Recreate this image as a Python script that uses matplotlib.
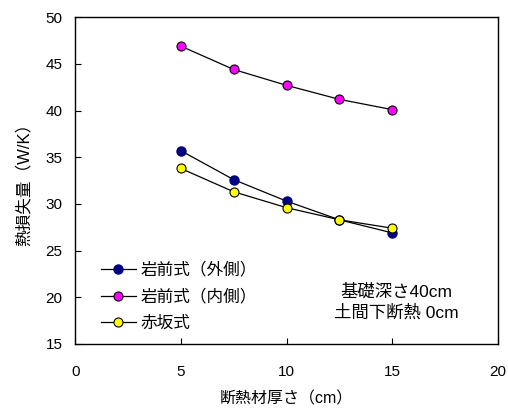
import matplotlib.pyplot as plt

plt.rcParams['font.family'] = ['Liberation Sans', 'Noto Sans CJK JP']

# 断熱材厚さ (cm)
thickness = [5, 7.5, 10, 12.5, 15]
iwamae_out = [35.7, 32.6, 30.3, 28.3, 26.9]
iwamae_in = [46.9, 44.4, 42.7, 41.2, 40.1]
akasaka = [33.8, 31.3, 29.6, 28.3, 27.4]

labels = ['岩前式（外側）', '岩前式（内側）', '赤坂式']

fig = plt.figure(figsize=(5.08, 4.09), dpi=100)
ax = fig.add_axes([0.148, 0.159, 0.832, 0.799])

ax.plot(thickness, iwamae_out, '-o', color='black', lw=0.9,
        markerfacecolor='#000080', markeredgecolor='#000080', markersize=6.5,
        label=labels[0])
ax.plot(thickness, iwamae_in, '-o', color='black', lw=0.9,
        markerfacecolor='#ff00ff', markeredgecolor='black', markeredgewidth=0.8,
        markersize=6.5, label=labels[1])
ax.plot(thickness, akasaka, '-o', color='black', lw=0.9,
        markerfacecolor='#ffff00', markeredgecolor='black', markeredgewidth=0.8,
        markersize=6.5, label=labels[2])

ax.set_xlim(0, 20)
ax.set_ylim(15, 50)
ax.set_xticks([0, 5, 10, 15, 20])
ax.set_yticks(range(15, 51, 5))
ax.tick_params(direction='in', length=4, labelsize=11)
ax.tick_params(axis='x', pad=15)
ax.tick_params(axis='y', pad=9)
for s in ax.spines.values():
    s.set_linewidth(1.0)

ax.set_xlabel('断熱材厚さ（cm）', fontsize=11.5, labelpad=9)
ax.set_ylabel('熱損失量（W/K）', fontsize=12, labelpad=10)

ax.legend(loc='lower left', bbox_to_anchor=(0.025, -0.006), frameon=False,
          fontsize=12, handlelength=2.1, handletextpad=0.3, labelspacing=0.66)

ax.text(15.2, 19.5, '基礎深さ40cm\n土間下断熱 0cm', ha='center', va='center',
        fontsize=12.5, linespacing=1.4)

fig.savefig('out.png', dpi=100)
